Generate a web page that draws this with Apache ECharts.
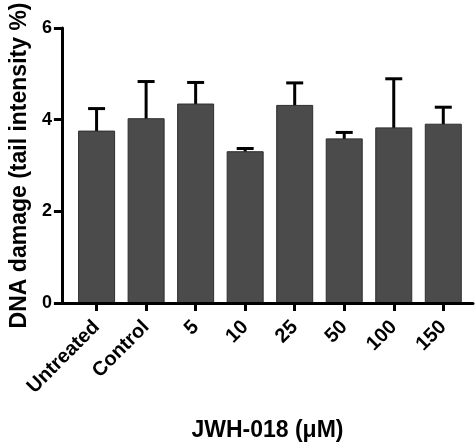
<!DOCTYPE html>
<html>
<head>
<meta charset="utf-8">
<script src="https://cdn.jsdelivr.net/npm/echarts@6/dist/echarts.min.js"></script>
<style>
html,body{margin:0;padding:0;background:#fff;}
#chart{width:475px;height:447px;}
</style>
</head>
<body>
<div id="chart"></div>
<script>
const categories = ['Untreated', 'Control', '5', '10', '25', '50', '100', '150'];
const means = [3.76, 4.03, 4.35, 3.31, 4.32, 3.59, 3.83, 3.91];
const errors = [0.48, 0.80, 0.46, 0.06, 0.48, 0.13, 1.06, 0.36];
const yTicks = [0, 2, 4, 6];
const xTitle = 'JWH-018 (\u03BCM)';
const yTitle = 'DNA damage (tail intensity %)';

const FONT = "'Liberation Sans', Arial, sans-serif";
const positions = categories.map((c, i) => i);
const barData = means.map((m, i) => [i, m]);
const errData = means.map((m, i) => [i, m, errors[i]]);

const chart = echarts.init(document.getElementById('chart'), null, {renderer: 'canvas'});
chart.setOption({
  backgroundColor: '#ffffff',
  animation: false,
  grid: {left: 53, right: 2, top: 23, bottom: 143, containLabel: false},
  xAxis: {
    type: 'value',
    min: -0.7,
    max: 7.6,
    z: 5,
    name: xTitle,
    nameLocation: 'middle',
    nameGap: 116,
    nameTextStyle: {fontFamily: FONT, fontWeight: 'bold', fontSize: 23, color: '#000'},
    axisLine: {show: true, onZero: false, lineStyle: {color: '#000', width: 3}},
    axisTick: {show: true, customValues: positions, length: 8, lineStyle: {color: '#000', width: 3}},
    axisLabel: {
      customValues: positions,
      formatter: v => categories[Math.round(v)],
      rotate: 45,
      margin: 21,
      fontFamily: FONT, fontWeight: 'bold', fontSize: 20, color: '#000'
    },
    splitLine: {show: false}
  },
  yAxis: {
    type: 'value',
    min: yTicks[0],
    max: yTicks[yTicks.length - 1],
    interval: 2,
    z: 5,
    name: yTitle,
    nameLocation: 'middle',
    nameGap: 29,
    nameRotate: 90,
    nameTextStyle: {fontFamily: FONT, fontWeight: 'bold', fontSize: 23, color: '#000'},
    axisLine: {show: true, onZero: false, lineStyle: {color: '#000', width: 3}},
    axisTick: {show: true, length: 8, lineStyle: {color: '#000', width: 3}},
    axisLabel: {margin: 10, fontFamily: FONT, fontWeight: 'bold', fontSize: 18, color: '#000'},
    splitLine: {show: false}
  },
  series: [
    {
      type: 'bar',
      data: barData,
      barWidth: 37,
      itemStyle: {color: '#4b4b4b', borderColor: '#2e2e2e', borderWidth: 1}
    },
    {
      type: 'custom',
      data: errData,
      encode: {x: 0, y: 1},
      z: 1,
      renderItem: function (params, api) {
        const x = api.value(0), m = api.value(1), e = api.value(2);
        const base = api.coord([x, m]);
        const top = api.coord([x, m + e]);
        const st = {stroke: '#000', lineWidth: 3};
        return {
          type: 'group',
          children: [
            {type: 'line', shape: {x1: base[0], y1: base[1] + 1, x2: top[0], y2: top[1]}, style: st},
            {type: 'line', shape: {x1: top[0] - 8.5, y1: top[1], x2: top[0] + 8.5, y2: top[1]}, style: st}
          ]
        };
      }
    }
  ]
});
</script>
</body>
</html>
